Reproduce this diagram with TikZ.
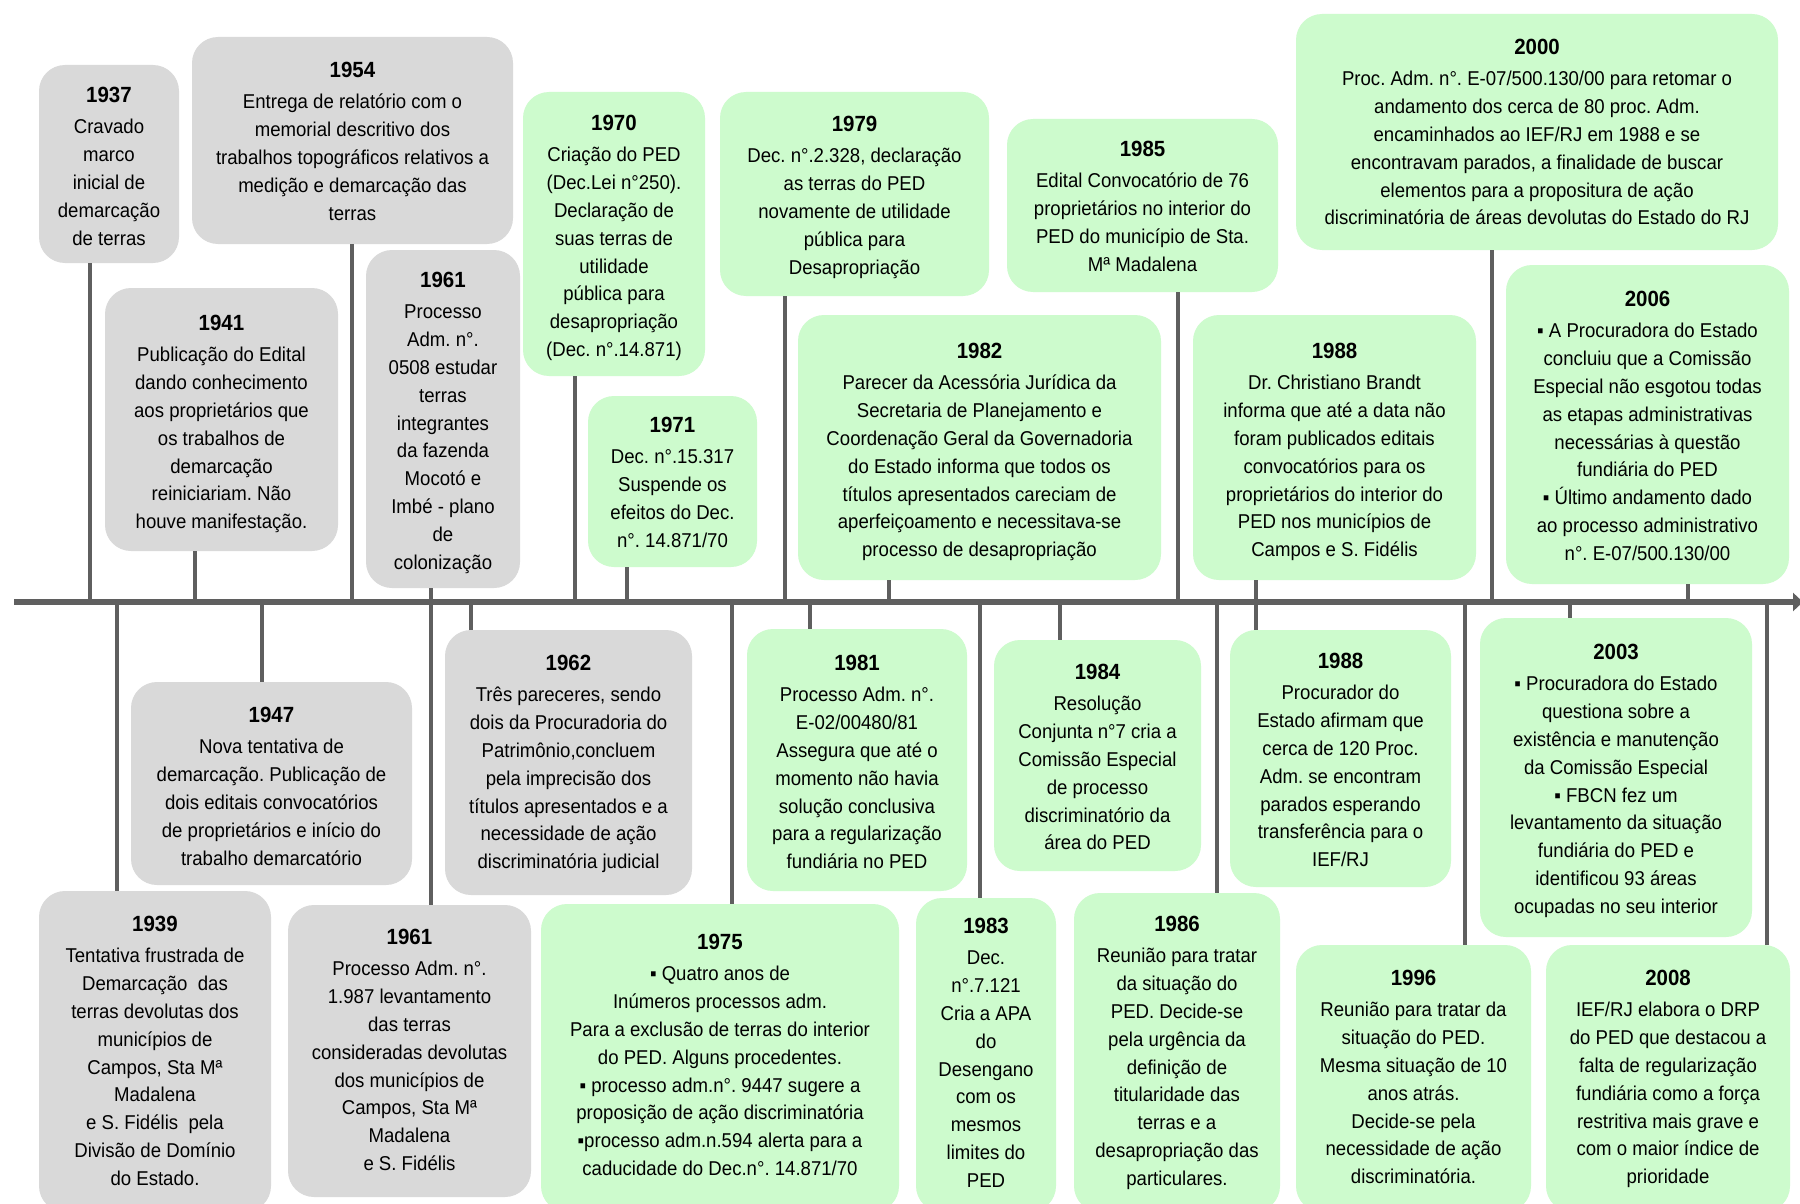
\documentclass[tikz,border=0pt]{standalone}
\usepackage{fontspec}
\setmainfont{Liberation Sans}[FakeStretch=0.93]
\usetikzlibrary{arrows.meta}
\definecolor{boxgray}{RGB}{217,217,217}
\definecolor{boxgreen}{RGB}{205,251,205}
\definecolor{linegray}{RGB}{95,95,95}
\newcommand\yr[1]{{\fontsize{11}{13.9}\selectfont\bfseries #1}\\[1.9pt]}
\newcommand\evbox[6]{\node[#2, anchor=north west, minimum width={(#5-#3)*0.5pt}, minimum height={(#6-#4)*0.5pt}] (#1) at (#3,#4) {};}
\frenchspacing
\begin{document}
\begin{tikzpicture}[x=0.5pt,y=-0.5pt,
  gbox/.style={fill=boxgray, rounded corners=13pt, inner sep=0pt, outer sep=0pt, draw=none},
  nbox/.style={fill=boxgreen, rounded corners=13pt, inner sep=0pt, outer sep=0pt, draw=none},
  txt/.style={align=center, inner sep=0pt, outer sep=0pt, font=\fontsize{10}{13.9}\selectfont\frenchspacing, text=black, anchor=north},
  stem/.style={draw=linegray, line width=2pt},
  axisline/.style={draw=linegray, line width=3pt, -{Triangle[length=5pt,width=9pt]}}]
\useasboundingbox (0,0) rectangle (1800,1204);
\fill[white] (0,0) rectangle (1800,1204);
% ---------- boxes above the axis
\evbox{b1937}{gbox}{39}{65}{179}{263}
\evbox{b1954}{gbox}{192}{37}{513}{244}
\evbox{b1941}{gbox}{105}{288}{338}{551}
\evbox{b1961t}{gbox}{366}{250}{520}{588}
\evbox{b1970}{nbox}{523}{92}{705}{376}
\evbox{b1971}{nbox}{588}{396}{757}{567}
\evbox{b1979}{nbox}{720}{92}{989}{296}
\evbox{b1982}{nbox}{798}{315}{1161}{580}
\evbox{b1985}{nbox}{1007}{119}{1278}{292}
\evbox{b1988t}{nbox}{1193}{315}{1476}{580}
\evbox{b2000}{nbox}{1296}{14}{1778}{250}
\evbox{b2006}{nbox}{1506}{265}{1789}{584}
% ---------- boxes below the axis
\evbox{b1939}{gbox}{39}{891}{271}{1212}
\evbox{b1947}{gbox}{131}{682}{412}{885}
\evbox{b1961b}{gbox}{288}{905}{531}{1197}
\evbox{b1962}{gbox}{445}{630}{692}{895}
\evbox{b1975}{nbox}{541}{904}{899}{1212}
\evbox{b1981}{nbox}{747}{629}{967}{891}
\evbox{b1984}{nbox}{994}{640}{1201}{871}
\evbox{b1983}{nbox}{916}{898}{1056}{1212}
\evbox{b1986}{nbox}{1074}{893}{1280}{1212}
\evbox{b1988b}{nbox}{1230}{630}{1451}{887}
\evbox{b2003}{nbox}{1480}{618}{1752}{937}
\evbox{b1996}{nbox}{1296}{945}{1531}{1212}
\evbox{b2008}{nbox}{1546}{945}{1790}{1212}
% ---------- texts above
\node[txt] (t1937) at (109,87) {\yr{1937}Cravado\\marco\\inicial de\\demarcação\\de terras};
\node[txt] (t1954) at (352.5,62) {\yr{1954}Entrega de relatório com o\\memorial descritivo dos\\trabalhos topográficos relativos a\\medição e demarcação das\\terras};
\node[txt] (t1941) at (221.5,315) {\yr{1941}Publicação do Edital\\dando conhecimento\\aos proprietários que\\os trabalhos de\\demarcação\\reiniciariam. Não\\houve manifestação.};
\node[txt] (t1961t) at (443,272) {\yr{1961}Processo\\Adm. n°.\\0508 estudar\\terras\\integrantes\\da fazenda\\Mocotó e\\Imbé - plano\\de\\colonização};
\node[txt] (t1970) at (614,115) {\yr{1970}Criação do PED\\(Dec.Lei n°250).\\Declaração de\\suas terras de\\utilidade\\pública para\\desapropriação\\(Dec. n°.14.871)};
\node[txt] (t1971) at (672.5,417) {\yr{1971}Dec. n°.15.317\\Suspende os\\efeitos do Dec.\\n°. 14.871/70};
\node[txt] (t1979) at (854.5,116) {\yr{1979}Dec. n°.2.328, declaração\\as terras do PED\\novamente de utilidade\\pública para\\Desapropriação};
\node[txt] (t1982) at (979.5,343) {\yr{1982}Parecer da Acessória Jurídica da\\Secretaria de Planejamento e\\Coordenação Geral da Governadoria\\do Estado informa que todos os\\títulos apresentados careciam de\\aperfeiçoamento e necessitava-se\\processo de desapropriação};
\node[txt] (t1985) at (1142.5,141) {\yr{1985}Edital Convocatório de 76\\proprietários no interior do\\PED do município de Sta.\\Mª Madalena};
\node[txt] (t1988t) at (1334.5,343) {\yr{1988}Dr. Christiano Brandt\\informa que até a data não\\foram publicados editais\\convocatórios para os\\proprietários do interior do\\PED nos municípios de\\Campos e S. Fidélis};
\node[txt] (t2000) at (1537,39) {\yr{2000}Proc. Adm. n°. E-07/500.130/00 para retomar o\\andamento dos cerca de 80 proc. Adm.\\encaminhados ao IEF/RJ em 1988 e se\\encontravam parados, a finalidade de buscar\\elementos para a propositura de ação\\discriminatória de áreas devolutas do Estado do RJ};
\node[txt] (t2006) at (1647.5,291) {\yr{2006}▪ A Procuradora do Estado\\concluiu que a Comissão\\Especial não esgotou todas\\as etapas administrativas\\necessárias à questão\\fundiária do PED\\▪ Último andamento dado\\ao processo administrativo\\n°. E-07/500.130/00};
% ---------- texts below
\node[txt] (t1939) at (155,916) {\yr{1939}Tentativa frustrada de\\Demarcação~ das\\terras devolutas dos\\municípios de\\Campos, Sta Mª\\Madalena\\e S. Fidélis~ pela\\Divisão de Domínio\\do Estado.};
\node[txt] (t1947) at (271.5,707) {\yr{1947}Nova tentativa de\\demarcação. Publicação de\\dois editais convocatórios\\de proprietários e início do\\trabalho demarcatório};
\node[txt] (t1961b) at (409.5,929) {\yr{1961}Processo Adm. n°.\\1.987 levantamento\\das terras\\consideradas devolutas\\dos municípios de\\Campos, Sta Mª\\Madalena\\e S. Fidélis};
\node[txt] (t1962) at (568.5,655) {\yr{1962}Três pareceres, sendo\\dois da Procuradoria do\\Patrimônio,concluem\\pela imprecisão dos\\títulos apresentados e a\\necessidade de ação\\discriminatória judicial};
\node[txt] (t1975) at (720,934) {\yr{1975}▪ Quatro anos de\\Inúmeros processos adm.\\Para a exclusão de terras do interior\\do PED. Alguns procedentes.\\▪ processo adm.n°. 9447 sugere a\\proposição de ação discriminatória\\▪processo adm.n.594 alerta para a\\caducidade do Dec.n°. 14.871/70};
\node[txt] (t1981) at (857,655) {\yr{1981}Processo Adm. n°.\\E-02/00480/81\\Assegura que até o\\momento não havia\\solução conclusiva\\para a regularização\\fundiária no PED};
\node[txt] (t1984) at (1097.5,664) {\yr{1984}Resolução\\Conjunta n°7 cria a\\Comissão Especial\\de processo\\discriminatório da\\área do PED};
\node[txt] (t1983) at (986,918) {\yr{1983}Dec.\\n°.7.121\\Cria a APA\\do\\Desengano\\com os\\mesmos\\limites do\\PED};
\node[txt] (t1986) at (1177,916) {\yr{1986}Reunião para tratar\\da situação do\\PED. Decide-se\\pela urgência da\\definição de\\titularidade das\\terras e a\\desapropriação das\\particulares.};
\node[txt] (t1988b) at (1340.5,653) {\yr{1988}Procurador do\\Estado afirmam que\\cerca de 120 Proc.\\Adm. se encontram\\parados esperando\\transferência para o\\IEF/RJ};
\node[txt] (t2003) at (1616,644) {\yr{2003}▪ Procuradora do Estado\\questiona sobre a\\existência e manutenção\\da Comissão Especial\\▪ FBCN fez um\\levantamento da situação\\fundiária do PED e\\identificou 93 áreas\\ocupadas no seu interior};
\node[txt] (t1996) at (1413.5,970) {\yr{1996}Reunião para tratar da\\situação do PED.\\Mesma situação de 10\\anos atrás.\\Decide-se pela\\necessidade de ação\\discriminatória.};
\node[txt] (t2008) at (1668,970) {\yr{2008}IEF/RJ elabora o DRP\\do PED que destacou a\\falta de regularização\\fundiária como a força\\restritiva mais grave e\\com o maior índice de\\prioridade};
% ---------- stems (anchor points on the axis)
\foreach \n/\x in {1937/90,1941/195,1954/352,1961t/431,1970/575,1971/627,1979/785,1982/889,1985/1178,1988t/1256,2000/1492,2006/1688,
  1939/117,1947/262,1961b/431,1962/471,1975/732,1981/810,1983/980,1984/1060,1986/1217,1988b/1256,1996/1465,2003/1570,2008/1767}
  {\coordinate (a\n) at (\x,602);}
\foreach \n in {1937,1941,1954,1961t,1970,1971,1979,1982,1985,1988t,2000,2006}
  {\draw[stem] (a\n) -- (a\n |- b\n.south);}
\foreach \n in {1939,1947,1961b,1962,1975,1981,1983,1984,1986,1988b,1996,2003,2008}
  {\draw[stem] (a\n) -- (a\n |- b\n.north);}
% ---------- axis
\coordinate (axL) at (14,602);
\coordinate (axR) at (1803,602);
\draw[axisline] (axL) -- (axR);
\end{tikzpicture}
\end{document}
